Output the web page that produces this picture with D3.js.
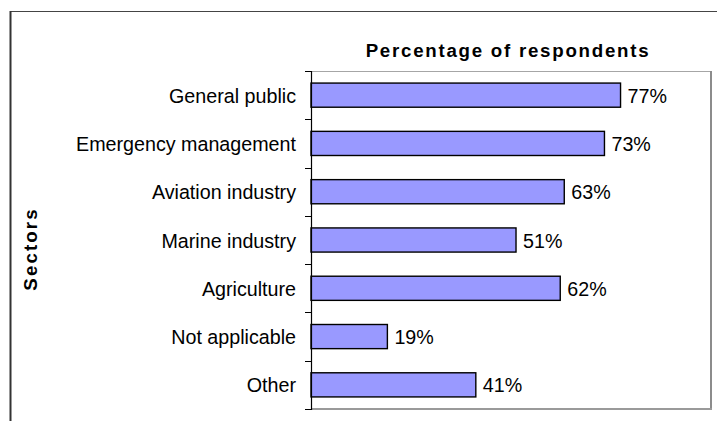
<!DOCTYPE html>
<html>
<head>
<meta charset="utf-8">
<script src="https://cdn.jsdelivr.net/npm/d3@7/dist/d3.min.js"></script>
<style>
  html, body { margin: 0; padding: 0; background: #fff; }
  svg { display: block; }
  text { font-family: "Liberation Sans", Arial, sans-serif; fill: #000; }
</style>
</head>
<body>
<svg id="chart" width="717" height="421"></svg>
<script>
// Sectors and the share of respondents naming each one
const sectors = ["General public", "Emergency management", "Aviation industry",
                 "Marine industry", "Agriculture", "Not applicable", "Other"];
const percents = [77, 73, 63, 51, 62, 19, 41];
const titleText = "Percentage of respondents";
const axisTitle = "Sectors";

const svg = d3.select("#chart");

const plot = { left: 311, top: 71, right: 711, bottom: 409 };

const x = d3.scaleLinear().domain([0, 100]).range([plot.left, plot.left + 402]);
const y = d3.scaleBand().domain(sectors).range([plot.top, plot.bottom]).paddingInner(0.5).paddingOuter(0.25);

// outer frame
svg.append("line").attr("x1", 10.5).attr("x2", 717).attr("y1", 11.5).attr("y2", 11.5)
  .attr("stroke", "#444").attr("stroke-width", 1);
svg.append("line").attr("x1", 10.5).attr("x2", 10.5).attr("y1", 11).attr("y2", 421)
  .attr("stroke", "#333").attr("stroke-width", 2);

// plot area border
svg.append("line").attr("x1", plot.left).attr("x2", plot.right).attr("y1", plot.top + 0.5).attr("y2", plot.top + 0.5)
  .attr("stroke", "#a6a6a6").attr("stroke-width", 1);
svg.append("line").attr("x1", plot.right).attr("x2", plot.right).attr("y1", plot.top).attr("y2", plot.bottom + 1)
  .attr("stroke", "#8c8c8c").attr("stroke-width", 2);
svg.append("line").attr("x1", plot.left).attr("x2", plot.right + 1).attr("y1", plot.bottom).attr("y2", plot.bottom)
  .attr("stroke", "#9a9a9a").attr("stroke-width", 2);

// bars
svg.append("g").selectAll("rect").data(sectors).join("rect")
  .attr("x", x(0))
  .attr("y", d => y(d))
  .attr("width", (d, i) => x(percents[i]) - x(0))
  .attr("height", y.bandwidth())
  .attr("fill", "#9999ff")
  .attr("stroke", "#000")
  .attr("stroke-width", 1.4);

// category axis: line plus ticks at band boundaries
const step = y.step();
const edges = d3.range(sectors.length + 1).map(i => plot.top + i * step);
svg.append("line").attr("x1", plot.left + 0.5).attr("x2", plot.left + 0.5)
  .attr("y1", plot.top).attr("y2", plot.bottom + 1).attr("stroke", "#000").attr("stroke-width", 1.2);
svg.append("g").selectAll("line").data(edges).join("line")
  .attr("x1", plot.left - 6).attr("x2", plot.left)
  .attr("y1", d => Math.round(d) + 0.5).attr("y2", d => Math.round(d) + 0.5)
  .attr("stroke", "#000").attr("stroke-width", 1);

// category labels
svg.append("g").selectAll("text").data(sectors).join("text")
  .attr("x", 296)
  .attr("y", d => y(d) + y.bandwidth() / 2 + 7.5)
  .attr("text-anchor", "end")
  .style("font-size", "19.7px")
  .text(d => d);

// value labels
svg.append("g").selectAll("text").data(sectors).join("text")
  .attr("x", (d, i) => x(percents[i]) + 7)
  .attr("y", d => y(d) + y.bandwidth() / 2 + 7.5)
  .style("font-size", "19.7px")
  .text((d, i) => percents[i] + "%");

// titles
svg.append("text")
  .attr("x", 508).attr("y", 56.7)
  .attr("text-anchor", "middle")
  .style("font-size", "18.7px").style("font-weight", "bold").style("letter-spacing", "1.75px")
  .text(titleText);

svg.append("text")
  .attr("transform", "translate(36.5,249) rotate(-90)")
  .attr("text-anchor", "middle")
  .style("font-size", "18.7px").style("font-weight", "bold").style("letter-spacing", "2.1px")
  .text(axisTitle);
</script>
</body>
</html>
